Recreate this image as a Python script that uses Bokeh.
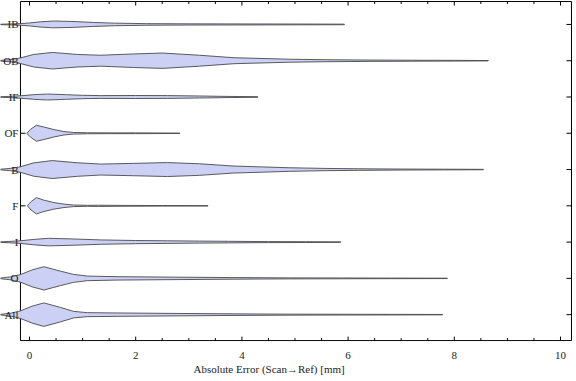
from math import pi
from bokeh.plotting import figure
from bokeh.models import Range1d, FixedTicker
from bokeh.core.properties import value
from bokeh.embed import file_html
from bokeh.resources import INLINE

# ---- data ----
categories = ["IB", "OB", "IF", "OF", "B", "F", "I", "O", "All"]   # top to bottom
positions = [9, 8, 7, 6, 5, 4, 3, 2, 1]

# violin profiles: x (mm) and half-width (in reference px, row spacing = 36.4 px)
ib_x = [-0.55, -0.17, 0.0, 0.2, 0.45, 0.8, 1.2, 1.6, 2.2, 3.0, 4.0, 5.0, 5.93]
ib_w = [0.2, 0.8, 1.5, 2.6, 3.4, 3.0, 2.0, 1.3, 0.8, 0.6, 0.5, 0.4, 0.3]

ob_x = [-0.55, -0.35, -0.17, 0.08, 0.43, 0.9, 1.34, 1.96, 2.5, 3.2, 3.85, 4.9, 5.6, 6.3, 7.2, 8.0, 8.64]
ob_w = [0.3, 1.2, 2.8, 6.3, 8.3, 6.3, 5.5, 6.8, 7.7, 5.5, 3.0, 1.5, 1.0, 0.7, 0.5, 0.35, 0.2]

if_x = [-0.55, -0.17, 0.1, 0.34, 0.7, 1.0, 1.34, 2.0, 2.6, 3.2, 3.7, 4.3]
if_w = [0.2, 1.2, 2.4, 3.0, 2.3, 1.7, 1.4, 1.5, 1.4, 1.0, 0.6, 0.3]

of_x = [-0.05, 0.02, 0.13, 0.27, 0.46, 0.65, 0.83, 1.09, 1.5, 2.0, 2.4, 2.83]
of_w = [0.0, 4.0, 8.0, 6.3, 3.7, 1.7, 0.8, 0.5, 0.4, 0.4, 0.3, 0.2]

b_x = [-0.55, -0.35, -0.17, 0.08, 0.43, 0.9, 1.34, 1.96, 2.6, 3.2, 3.85, 4.9, 5.6, 6.2, 7.0, 7.8, 8.55]
b_w = [0.3, 1.2, 2.8, 6.7, 9.0, 6.8, 5.5, 6.2, 7.0, 5.8, 3.5, 1.8, 1.1, 0.8, 0.5, 0.35, 0.2]

f_x = [-0.04, 0.03, 0.13, 0.27, 0.46, 0.65, 0.83, 1.09, 1.3, 1.8, 2.5, 3.36]
f_w = [0.0, 4.2, 8.2, 5.7, 3.3, 1.7, 0.8, 0.5, 0.6, 0.4, 0.3, 0.2]

i_x = [-0.55, -0.17, 0.1, 0.36, 0.8, 1.34, 2.0, 2.6, 3.2, 3.75, 4.5, 5.2, 5.86]
i_w = [0.2, 1.3, 2.8, 3.8, 3.2, 2.2, 1.6, 1.3, 1.0, 0.8, 0.5, 0.4, 0.25]

o_x = [-0.55, -0.35, -0.17, 0.05, 0.27, 0.58, 0.83, 1.09, 1.65, 2.59, 3.85, 4.9, 5.9, 6.8, 7.87]
o_w = [0.3, 1.5, 3.8, 8.5, 11.7, 7.3, 4.0, 2.3, 1.7, 1.3, 0.8, 0.5, 0.4, 0.3, 0.2]

all_x = [-0.55, -0.35, -0.17, 0.05, 0.27, 0.58, 0.83, 1.09, 1.65, 2.59, 3.85, 4.9, 5.9, 6.8, 7.78]
all_w = [0.3, 1.5, 3.8, 8.5, 11.8, 7.3, 3.3, 2.0, 1.7, 1.3, 0.8, 0.5, 0.4, 0.3, 0.2]

profiles = [(ib_x, ib_w), (ob_x, ob_w), (if_x, if_w), (of_x, of_w), (b_x, b_w),
            (f_x, f_w), (i_x, i_w), (o_x, o_w), (all_x, all_w)]

major_ticks = [0, 2, 4, 6, 8, 10]
minor_ticks = [0.5, 1, 1.5, 2.5, 3, 3.5, 4.5, 5, 5.5, 6.5, 7, 7.5, 8.5, 9, 9.5]
x_title = "Absolute Error (Scan\u2192Ref) [mm]"

ROW_PX = 36.4
FRAME_L, FRAME_R, FRAME_B, FRAME_T = -0.17, 10.207, 0.285, 9.632
FONT = "Liberation Serif"
TXT = "#222222"
FS = "11px"

p = figure(width=575, height=380,
           x_range=Range1d(-0.546, 10.245), y_range=Range1d(0.26, 9.66),
           output_backend="svg", toolbar_location=None, y_axis_location=None,
           min_border_left=0, min_border_right=2, min_border_top=0, min_border_bottom=39)
p.grid.visible = False
p.outline_line_color = None

xa = p.xaxis[0]
xa.ticker = FixedTicker(ticks=major_ticks, minor_ticks=[])
xa.axis_line_color = None
xa.major_tick_in = 0
xa.major_tick_out = 0
xa.minor_tick_in = 0
xa.minor_tick_out = 0
xa.major_tick_line_color = None
xa.minor_tick_line_color = None
xa.major_label_text_font = FONT
xa.major_label_text_font_size = FS
xa.major_label_text_color = TXT
xa.major_label_standoff = 10
# trailing no-break spaces shift the centred title left, as in the reference
xa.axis_label = x_title + "\u00a0" * 13
xa.axis_label_text_font = FONT
xa.axis_label_text_font_size = FS
xa.axis_label_text_font_style = "normal"
xa.axis_label_text_color = TXT
xa.axis_label_standoff = 1

# frame
p.quad(left=[FRAME_L], right=[FRAME_R], bottom=[FRAME_B], top=[FRAME_T],
       fill_color=None, line_color="black", line_width=1)

# inward ticks on all four sides of the frame
tick_kw = dict(length_units="screen", line_color="black", line_width=1)
p.ray(x=major_ticks, y=[FRAME_B] * len(major_ticks), length=4, angle=pi / 2, **tick_kw)
p.ray(x=minor_ticks, y=[FRAME_B] * len(minor_ticks), length=2.5, angle=pi / 2, **tick_kw)
p.ray(x=major_ticks, y=[FRAME_T] * len(major_ticks), length=4, angle=-pi / 2, **tick_kw)
p.ray(x=minor_ticks, y=[FRAME_T] * len(minor_ticks), length=2.5, angle=-pi / 2, **tick_kw)
p.ray(x=[FRAME_R] * len(positions), y=positions, length=5, angle=pi, **tick_kw)
p.ray(x=[FRAME_L] * len(positions), y=positions, length=5, angle=0, **tick_kw)

# violins
xs, ys = [], []
for (vx, vw), yc in zip(profiles, positions):
    upper = [yc + w / ROW_PX for w in vw]
    lower = [yc - w / ROW_PX for w in vw]
    xs.append(list(vx) + list(vx)[::-1])
    ys.append(upper + lower[::-1])
p.patches(xs, ys, fill_color="#CBD0F4", line_color="#4a4a4a", line_width=0.9)

# category labels
p.text(x=[FRAME_L] * len(categories), y=positions, text=categories,
       text_align="right", text_baseline="middle", x_offset=-2,
       text_font=value(FONT), text_font_size=FS, text_color=TXT)

open("out.html", "w").write(file_html(p, INLINE))
